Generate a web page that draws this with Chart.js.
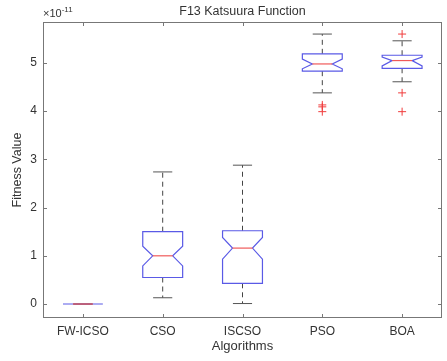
<!DOCTYPE html>
<html lang="en">
<head>
  <meta charset="UTF-8">
  <title>F13 Katsuura Function</title>
  <script src="https://cdn.jsdelivr.net/npm/chart.js"></script>
  <style>
    html, body { margin: 0; padding: 0; background: #fff; }
    #wrap { width: 447px; height: 361px; }
  </style>
</head>
<body>
  <div id="wrap"><canvas id="boxChart" width="447" height="361"></canvas></div>

  <script>
    // values, in units of 1e-11
    const algorithms = ['FW-ICSO', 'CSO', 'ISCSO', 'PSO', 'BOA'];
    const whiskerLow = [0, 0.13, 0.01, 4.38, 4.61];
    const q1 = [0, 0.55, 0.43, 4.83, 4.89];
    const notchLow = [0, 0.79, 0.93, 4.88, 4.94];
    const median = [0, 1.00, 1.16, 4.98, 5.05];
    const notchHigh = [0, 1.20, 1.38, 5.08, 5.12];
    const q3 = [0, 1.50, 1.52, 5.19, 5.16];
    const whiskerHigh = [0, 2.74, 2.88, 5.60, 5.46];
    const outliers = [[], [], [], [4.13, 4.09, 3.99], [5.60, 4.38, 3.99]];
    const yTicks = [0, 1, 2, 3, 4, 5];

    const font = 'Liberation Sans, Arial, Helvetica, sans-serif';
    const textColor = '#333';
    const axisColor = '#777';

    // outlier points go through a normal dataset
    const outlierPoints = [];
    outliers.forEach((list, i) => {
      list.forEach(v => outlierPoints.push({ x: algorithms[i], y: v }));
    });

    // boxes, whiskers, axes box and the exponent label
    const boxPlugin = {
      id: 'boxes',
      beforeDatasetsDraw(chart) {
        const { ctx, chartArea: a, scales: { x, y } } = chart;
        const step = x.getPixelForValue(1) - x.getPixelForValue(0);
        const hw = step * 0.25;
        const nw = hw * 0.5;
        const cap = step * 0.12;

        ctx.save();
        algorithms.forEach((name, i) => {
          const cx = x.getPixelForValue(i);
          const pWl = y.getPixelForValue(whiskerLow[i]);
          const pQ1 = y.getPixelForValue(q1[i]);
          const pNl = y.getPixelForValue(notchLow[i]);
          const pMd = y.getPixelForValue(median[i]);
          const pNh = y.getPixelForValue(notchHigh[i]);
          const pQ3 = y.getPixelForValue(q3[i]);
          const pWh = y.getPixelForValue(whiskerHigh[i]);

          // whiskers
          ctx.strokeStyle = '#444';
          ctx.lineWidth = 1;
          ctx.setLineDash([5, 4]);
          ctx.beginPath();
          ctx.moveTo(cx, pQ3); ctx.lineTo(cx, pWh);
          ctx.moveTo(cx, pQ1); ctx.lineTo(cx, pWl);
          ctx.stroke();
          ctx.setLineDash([]);
          ctx.strokeStyle = '#555';
          ctx.beginPath();
          ctx.moveTo(cx - cap, pWh); ctx.lineTo(cx + cap, pWh);
          ctx.moveTo(cx - cap, pWl); ctx.lineTo(cx + cap, pWl);
          ctx.stroke();

          // notched box
          ctx.strokeStyle = '#5a5ae6';
          ctx.lineWidth = 1.2;
          ctx.beginPath();
          ctx.moveTo(cx - hw, pQ3);
          ctx.lineTo(cx + hw, pQ3);
          ctx.lineTo(cx + hw, pNh);
          ctx.lineTo(cx + nw, pMd);
          ctx.lineTo(cx + hw, pNl);
          ctx.lineTo(cx + hw, pQ1);
          ctx.lineTo(cx - hw, pQ1);
          ctx.lineTo(cx - hw, pNl);
          ctx.lineTo(cx - nw, pMd);
          ctx.lineTo(cx - hw, pNh);
          ctx.closePath();
          ctx.stroke();

          // median
          ctx.strokeStyle = '#f05a5a';
          ctx.lineWidth = 1.2;
          ctx.beginPath();
          ctx.moveTo(cx - nw, pMd); ctx.lineTo(cx + nw, pMd);
          ctx.stroke();
        });

        // axes box with inward ticks
        ctx.strokeStyle = axisColor;
        ctx.lineWidth = 1;
        ctx.strokeRect(a.left + 0.5, a.top + 0.5, a.right - a.left - 1, a.bottom - a.top - 1);
        ctx.beginPath();
        algorithms.forEach((name, i) => {
          const px = Math.round(x.getPixelForValue(i)) + 0.5;
          ctx.moveTo(px, a.bottom); ctx.lineTo(px, a.bottom - 4);
          ctx.moveTo(px, a.top); ctx.lineTo(px, a.top + 4);
        });
        yTicks.forEach(v => {
          const py = Math.round(y.getPixelForValue(v)) + 0.5;
          ctx.moveTo(a.left, py); ctx.lineTo(a.left + 4, py);
          ctx.moveTo(a.right, py); ctx.lineTo(a.right - 4, py);
        });
        ctx.stroke();

        // exponent
        ctx.fillStyle = textColor;
        ctx.textBaseline = 'alphabetic';
        ctx.textAlign = 'left';
        ctx.font = '11px ' + font;
        ctx.fillText('\u00d710', a.left, a.top - 5);
        const w = ctx.measureText('\u00d710').width;
        ctx.font = '8px ' + font;
        ctx.fillText('-11', a.left + w, a.top - 10);
        ctx.restore();
      }
    };

    const ctx = document.getElementById('boxChart').getContext('2d');
    new Chart(ctx, {
      type: 'line',
      data: {
        labels: algorithms,
        datasets: [{
          label: 'Outliers',
          data: outlierPoints,
          showLine: false,
          pointStyle: 'cross',
          pointRadius: 4,
          pointBorderColor: '#f03c3c',
          pointBorderWidth: 1,
          pointHoverRadius: 4
        }]
      },
      options: {
        responsive: false,
        animation: false,
        events: [],
        layout: { padding: { left: 0, right: 4, top: 0, bottom: 0 } },
        plugins: {
          legend: { display: false },
          tooltip: { enabled: false },
          title: {
            display: true,
            text: 'F13 Katsuura Function',
            fullSize: false,
            color: textColor,
            font: { family: font, size: 12.5, weight: 'normal' },
            padding: { top: 4, bottom: 3 }
          }
        },
        scales: {
          x: {
            type: 'category',
            offset: true,
            grid: { display: false, drawTicks: false },
            border: { display: false },
            ticks: {
              color: textColor,
              padding: 6,
              maxRotation: 0,
              font: { family: font, size: 12 }
            },
            title: {
              display: true,
              text: 'Algorithms',
              color: textColor,
              font: { family: font, size: 13 },
              padding: { top: 7, bottom: 7 }
            },
            afterFit(scale) { scale.height = 43; }
          },
          y: {
            min: -0.29,
            max: 5.85,
            grid: { display: false, drawTicks: false },
            border: { display: false },
            afterBuildTicks(scale) {
              scale.ticks = yTicks.map(v => ({ value: v }));
            },
            ticks: {
              color: textColor,
              padding: 6,
              font: { family: font, size: 12 },
              callback: v => String(v)
            },
            title: {
              display: true,
              text: 'Fitness Value',
              color: textColor,
              font: { family: font, size: 12.5 },
              padding: { top: 10, bottom: 10 }
            },
            afterFit(scale) { scale.width = 43; }
          }
        }
      },
      plugins: [boxPlugin]
    });
  </script>
</body>
</html>
